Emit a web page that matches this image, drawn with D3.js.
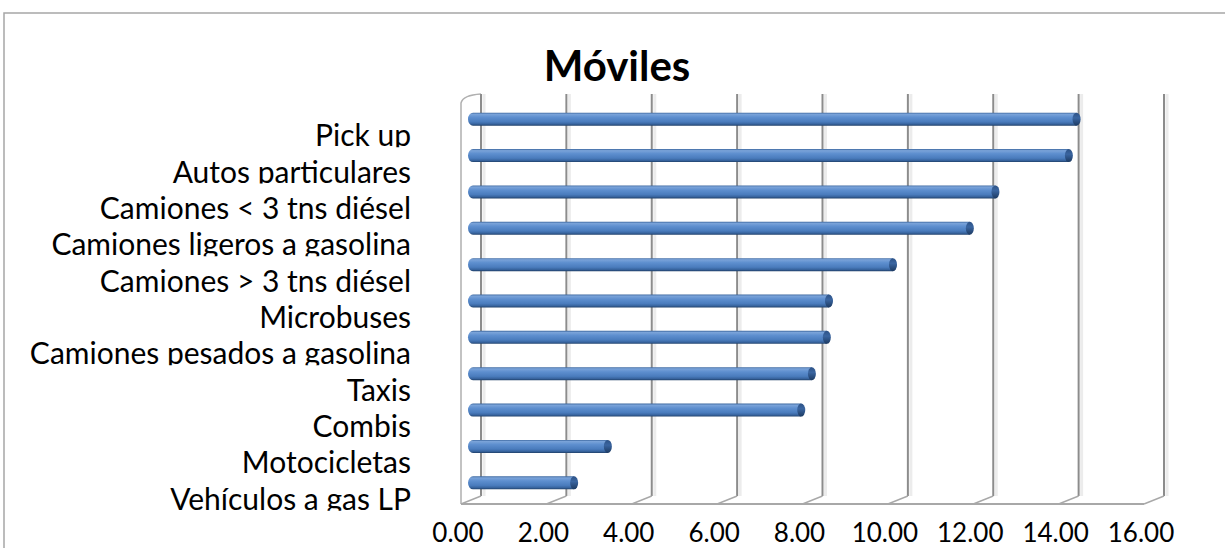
<!DOCTYPE html>
<html><head><meta charset="utf-8">
<script src="https://cdn.jsdelivr.net/npm/d3@7"></script>
<style>html,body{margin:0;padding:0;background:#fff;overflow:hidden}</style>
</head><body>
<svg id="c" width="1225" height="548"></svg>
<script>
const categories = ["Pick up","Autos particulares","Camiones < 3 tns diésel","Camiones ligeros a gasolina","Camiones > 3 tns diésel","Microbuses","Camiones pesados a gasolina","Taxis","Combis","Motocicletas","Vehículos a gas LP"];
const values = [14.35, 14.17, 12.45, 11.85, 10.05, 8.55, 8.5, 8.15, 7.9, 3.37, 2.58];
const tickValues = [0,2,4,6,8,10,12,14,16];
const title = "Móviles";

const svg = d3.select("#c");
const font = "Lato, 'Open Sans', sans-serif";

// outer chart border
svg.append("rect").attr("x",4).attr("y",13).attr("width",1240).attr("height",560)
  .attr("fill","#fff").attr("stroke","#a6a6a6").attr("stroke-width",1.5);

// 3D geometry
const backTop = 94, backBottom = 496;
const depth = {dx:-20, dy:8};
const barOff = {dx:-13, dy:5};
const x = d3.scaleLinear().domain([0,16]).range([481,1164]);
const y = d3.scaleBand().domain(categories).range([backTop+2, backBottom]).paddingInner(0).paddingOuter(0);

const defs = svg.append("defs");
const g1 = defs.append("linearGradient").attr("id","barG").attr("x1",0).attr("y1",0).attr("x2",0).attr("y2",1);
[[0,"#3c679f"],[0.12,"#7aa3d9"],[0.35,"#5e8fcf"],[0.7,"#4a7cbd"],[0.88,"#37639d"],[1,"#1f3f68"]]
  .forEach(([o,c])=>g1.append("stop").attr("offset",o).attr("stop-color",c));
const g2 = defs.append("linearGradient").attr("id","capG").attr("x1",0).attr("y1",0).attr("x2",0).attr("y2",1);
[[0,"#2d5286"],[0.4,"#3a65a0"],[1,"#1c3a62"]]
  .forEach(([o,c])=>g2.append("stop").attr("offset",o).attr("stop-color",c));

// left side wall
const wall = svg.append("g");
wall.append("path")
  .attr("d",`M${x(0)+depth.dx},${backBottom+depth.dy} L${x(0)+depth.dx},${backTop+9} Q${x(0)+depth.dx+2},${backTop+1} ${x(0)},${backTop}`)
  .attr("fill","none").attr("stroke","#b0b0b0").attr("stroke-width",1.5);

// gridlines on back wall + floor
const grid = svg.append("g");
tickValues.forEach(v=>{
  grid.append("line").attr("x1",x(v)+3).attr("x2",x(v)+3).attr("y1",backTop).attr("y2",backBottom)
    .attr("stroke","#ececec").attr("stroke-width",3);
  grid.append("line").attr("x1",x(v)).attr("x2",x(v)).attr("y1",backTop).attr("y2",backBottom)
    .attr("stroke","#8c8c8c").attr("stroke-width",2);
  grid.append("line").attr("x1",x(v)).attr("y1",backBottom).attr("x2",x(v)+depth.dx).attr("y2",backBottom+depth.dy)
    .attr("stroke","#a8a8a8").attr("stroke-width",1.5);
});
grid.append("line").attr("x1",x(0)+depth.dx).attr("x2",x(16)+depth.dx)
  .attr("y1",backBottom+depth.dy).attr("y2",backBottom+depth.dy)
  .attr("stroke","#a8a8a8").attr("stroke-width",2);

// bars (cylinders)
const bh = 13, capRx = 4;
const bars = svg.append("g");
categories.forEach((c,i)=>{
  const cy = y(c) + y.bandwidth()/2 + barOff.dy;
  const x0 = x(0) + barOff.dx, x1 = x(values[i]) + barOff.dx;
  bars.append("path")
    .attr("d",`M${x0+5},${cy-bh/2} L${x1-capRx},${cy-bh/2} L${x1-capRx},${cy+bh/2} L${x0+5},${cy+bh/2} A5,${bh/2} 0 0 1 ${x0+5},${cy-bh/2} Z`)
    .attr("fill","url(#barG)");
  bars.append("ellipse").attr("cx",x1-capRx).attr("cy",cy).attr("rx",capRx).attr("ry",bh/2)
    .attr("fill","url(#capG)");
});

// category labels
const lab = svg.append("g");
categories.forEach((c,i)=>{
  const base = y(c) + y.bandwidth()/2 + 32;
  const id = "clip"+i;
  defs.append("clipPath").attr("id",id).append("rect")
    .attr("x",0).attr("y",base-40).attr("width",460).attr("height",41);
  lab.append("text").attr("x",411).attr("y",base).attr("text-anchor","end")
    .attr("clip-path",`url(#${id})`)
    .attr("font-family",font).attr("font-size",30).attr("fill","#000").text(c);
});

// x tick labels
const fmt = d3.format(".2f");
svg.append("g").selectAll("text").data(tickValues).join("text")
  .attr("x",d=>x(d)-23).attr("y",542).attr("text-anchor","middle")
  .attr("font-family",font).attr("font-size",26).attr("fill","#000").text(d=>fmt(d));

// title
svg.append("text").attr("x",617).attr("y",81).attr("text-anchor","middle")
  .attr("font-family",font).attr("font-weight","bold").attr("font-size",42).attr("fill","#000").text(title);
</script>
</body></html>
